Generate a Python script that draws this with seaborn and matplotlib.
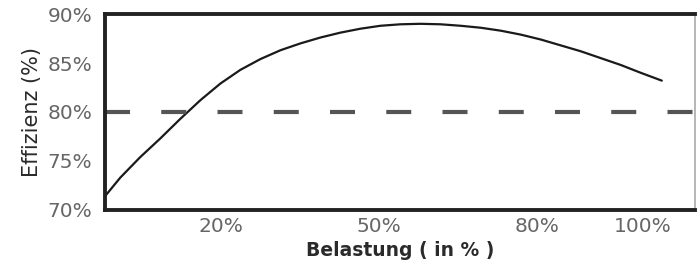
import numpy as np
import pandas as pd
import matplotlib
matplotlib.use("Agg")
import matplotlib.pyplot as plt
import seaborn as sns

# efficiency curve (load in %, efficiency in %)
belastung = [-2.0, 0.9, 4.7, 8.5, 12.3, 16.1, 19.9, 23.7, 27.5, 31.3, 35.1, 38.9,
             42.7, 46.5, 50.3, 54.1, 57.9, 61.7, 65.5, 69.3, 73.1, 76.9, 80.7,
             84.5, 88.3, 92.1, 95.9, 99.7, 103.7]
effizienz = [71.4, 73.3, 75.4, 77.3, 79.3, 81.2, 82.9, 84.3, 85.4, 86.3, 87.0, 87.6,
             88.1, 88.5, 88.8, 88.95, 89.0, 88.95, 88.8, 88.6, 88.3, 87.9, 87.4,
             86.8, 86.2, 85.5, 84.8, 84.0, 83.2]
grenzwert = 80
x_ticks = [20, 50, 80, 100]
x_labels = ["20%", "50%", "80%", "100%"]
y_ticks = [70, 75, 80, 85, 90]
y_labels = ["70%", "75%", "80%", "85%", "90%"]

df = pd.DataFrame({"Belastung": belastung, "Effizienz": effizienz})

sns.set_style("white")
plt.rcParams["font.family"] = ["DejaVu Sans"]

fig = plt.figure(figsize=(6.98, 2.73), dpi=100)
ax = fig.add_axes([0.1504, 0.2308, 0.8453, 0.7179])

sns.lineplot(data=df, x="Belastung", y="Effizienz", color="#1a1a1a", linewidth=1.6, ax=ax)
ax.axhline(grenzwert, color="#555555", linewidth=3, linestyle=(0, (6, 7.5)))

ax.set_xlim(-2, 110)
ax.set_ylim(70, 90)
ax.set_xticks(x_ticks)
ax.set_xticklabels(x_labels)
ax.set_yticks(y_ticks)
ax.set_yticklabels(y_labels)
ax.tick_params(axis="both", length=0, labelsize=14.5, labelcolor="#666666")
ax.tick_params(axis="y", pad=9)
ax.tick_params(axis="x", pad=5)

ax.set_xlabel("Belastung ( in % )", fontsize=13.5, fontweight="bold", color="#2a2a2a", labelpad=4)
ax.set_ylabel("Effizienz (%)", fontsize=15, color="#2a2a2a", labelpad=4)

for side in ["left", "top", "bottom"]:
    ax.spines[side].set_color("#222222")
    ax.spines[side].set_linewidth(2.8)
ax.spines["right"].set_color("#aaaaaa")
ax.spines["right"].set_linewidth(1.2)

fig.savefig("out.png", dpi=100)
